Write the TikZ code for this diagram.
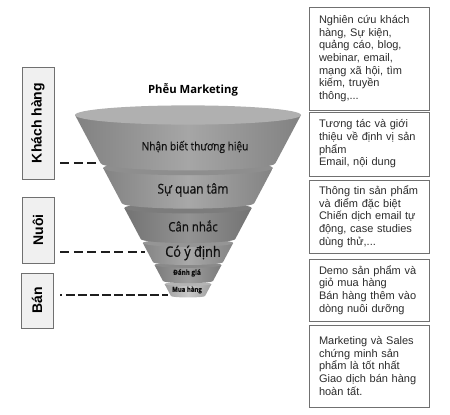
\documentclass[tikz,border=0pt]{standalone}
\usepackage{fontspec}
\setmainfont{Liberation Sans}
\newfontfamily\funnelfont[FakeStretch=0.88, FakeBold=0.5]{Open Sans}
\newfontfamily\titlefont{Open Sans}
\usetikzlibrary{positioning}

\definecolor{boxline}{HTML}{707070}
\definecolor{boxfill}{HTML}{F0F0F0}
\definecolor{boxtext}{HTML}{2B2B2B}
\definecolor{dashline}{HTML}{1E1E1E}
\definecolor{funneltext}{HTML}{111111}
\definecolor{lonebody}{HTML}{A6A6A6}
\definecolor{loneface}{HTML}{B0B0B0}
\definecolor{ltwobody}{HTML}{A8A8A8}
\definecolor{ltwoface}{HTML}{8E8E8E}
\definecolor{lthreebody}{HTML}{939393}
\definecolor{lthreeface}{HTML}{7C7C7C}
\definecolor{lfourbody}{HTML}{A9A9A9}
\definecolor{lfourface}{HTML}{959595}
\definecolor{lfivebody}{HTML}{9E9E9E}
\definecolor{lfiveface}{HTML}{8A8A8A}
\definecolor{lsixbody}{HTML}{CACACA}
\definecolor{lsixface}{HTML}{B4B4B4}

\tikzset{
  stagebox/.style={draw=boxline, fill=boxfill, line width=0.9pt, rotate=90,
    minimum height=32pt, inner sep=0pt,
    font=\fontsize{14}{14}\selectfont\bfseries},
  infobox/.style={draw=boxline, line width=0.7pt, text width=100pt,
    inner xsep=10pt, inner ysep=0pt, align=left, text=boxtext,
    font=\fontsize{11}{12.7}\selectfont},
  stagelink/.style={draw=dashline, line width=1.8pt},
  layertext/.style={text=funneltext, inner sep=0pt},
}

\begin{document}
\begin{tikzpicture}[x=1pt, y=-1pt]
  \useasboundingbox (0,0) rectangle (450,415);

  % Funnel (drawn from the tip upwards)
  \def\cx{188}
  \foreach \yt/\yb/\bodycol/\facecol in {284/296/lsixbody/lsixface,
      265/281/lfivebody/lfiveface, 243/262/lfourbody/lfourface,
      208/239/lthreebody/lthreeface, 168/203/ltwobody/ltwoface,
      115/163/lonebody/loneface}{
    \pgfmathsetmacro\rt{113-0.53*(\yt-115)}
    \pgfmathsetmacro\rb{113-0.53*(\yb-115)}
    \shade[left color=\bodycol!78!black, right color=\bodycol!78!black,
      middle color=\bodycol]
      (\cx-\rt,\yt) -- (\cx-\rb,\yb)
      arc[start angle=180, end angle=0, x radius=\rb, y radius=0.085*\rb]
      -- (\cx+\rt,\yt) -- cycle;
    \fill[\facecol] (\cx,\yt) ellipse[x radius=\rt, y radius=0.085*\rt];
  }

  \node[font=\titlefont\fontsize{11.3}{11.3}\selectfont\bfseries] (title) at (193,90) {Phễu Marketing};
  \node[layertext, font=\funnelfont\fontsize{11.5}{11.5}\selectfont] (aware) at (195,147) {Nhận biết thương hiệu};
  \node[layertext, font=\funnelfont\fontsize{13.5}{13.5}\selectfont] (interest) at (193,190) {Sự quan tâm};
  \node[layertext, font=\funnelfont\fontsize{13}{13}\selectfont] (consider) at (193,226) {Cân nhắc};
  \node[layertext, font=\funnelfont\fontsize{14.5}{14.5}\selectfont] (intent) at (193,253) {Có ý định};
  \node[layertext, font=\funnelfont\fontsize{7.1}{7.1}\selectfont\bfseries] (evaluate) at (187,273) {Đánh giá};
  \node[layertext, font=\funnelfont\fontsize{6.8}{6.8}\selectfont\bfseries] (purchase) at (187,290) {Mua hàng};

  % Stages on the left
  \node[stagebox, minimum width=112pt] (khach) at (38,123) {Khách hàng};
  \node[stagebox, minimum width=66pt] (nuoi) at (38,230) {Nuôi};
  \node[stagebox, minimum width=55pt] (ban) at (37,300.5) {Bán};

  \coordinate (khachend) at (98,163);
  \coordinate (nuoiend) at (145,252);
  \coordinate (banend) at (168,295);
  \draw[stagelink, dash pattern=on 9pt off 4.5pt] ([xshift=6pt]khach.south |- khachend) -- (khachend);
  \draw[stagelink, dash pattern=on 9pt off 4.5pt] ([xshift=6pt]nuoi.south |- nuoiend) -- (nuoiend);
  \draw[stagelink, dash pattern=on 1.5pt off 4pt on 9pt off 3pt on 9pt off 3pt on 9pt off 3pt
    on 9pt off 3pt on 9pt off 3pt on 9pt off 3pt on 9pt off 3pt on 9pt off 3pt on 9pt off 3pt]
    ([xshift=7pt]ban.south |- banend) -- (banend);

  % Notes on the right
  \node[infobox, minimum height=103pt] (note1) at (369,58.5)
    {Nghiên cứu khách\\hàng, Sự kiện,\\quảng cáo, blog,\\webinar, email,\\mạng xã hội, tìm\\kiếm, truyền\\thông,...};
  \node[infobox, minimum height=64pt] (note2) at (369,144)
    {Tương tác và giới\\thiệu về định vị sản\\phẩm\\Email, nội dung};
  \node[infobox, minimum height=73pt] (note3) at (369,216.5)
    {Thông tin sản phẩm\\và điểm đặc biệt\\Chiến dịch email tự\\động, case studies\\dùng thử,...};
  \node[infobox, minimum height=62pt] (note4) at (369,290)
    {Demo sản phẩm và\\giỏ mua hàng\\Bán hàng thêm vào\\dòng nuôi dưỡng};
  \node[infobox, minimum height=82pt] (note5) at (369,366)
    {Marketing và Sales\\chứng minh sản\\phẩm là tốt nhất\\Giao dịch bán hàng\\hoàn tất.};
\end{tikzpicture}
\end{document}
